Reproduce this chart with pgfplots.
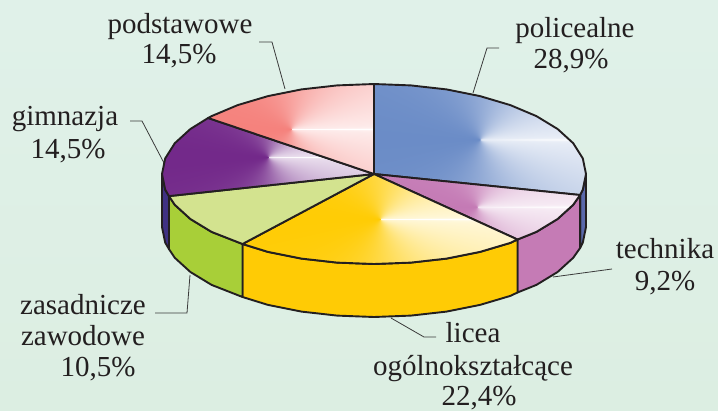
\documentclass[border=0pt]{standalone}
\usepackage{fontspec}
\setmainfont{Liberation Serif}
\usepackage{pgfplots}
\pgfplotsset{compat=1.18}

% conic gradient round the middle of the wedge's box: colour on the left, pale on the right,
% with a thin white streak along the horizontal
% #1 name, #2 y aspect, #3-#5 colour, #6-#8 one minus colour
\newcommand{\wedgeshade}[8]{%
  \pgfdeclarefunctionalshading{#1}{\pgfpoint{0bp}{0bp}}{\pgfpoint{100bp}{100bp}}{}{%
    50.01 sub #2 mul exch 50.01 sub atan 180 sub abs 180 div
    dup 1.7 exp 0.85 mul exch 250 exp 0.15 mul add
    dup #6 mul #3 add exch dup #7 mul #4 add exch #8 mul #5 add}}
\wedgeshade{shPol}{0.524}{0.42}{0.55}{0.78}{0.58}{0.45}{0.22}
\wedgeshade{shTec}{0.32}{0.77}{0.48}{0.71}{0.23}{0.52}{0.29}
\wedgeshade{shLic}{0.327}{1.00}{0.80}{0.02}{0.00}{0.20}{0.98}
\wedgeshade{shGim}{0.37}{0.45}{0.16}{0.54}{0.55}{0.84}{0.46}
\wedgeshade{shPod}{0.54}{0.96}{0.51}{0.49}{0.04}{0.49}{0.51}

\definecolor{rimc}{HTML}{231F20}
\definecolor{leadc}{HTML}{3A3A3A}
\definecolor{sidePol}{HTML}{5A68AB}
\definecolor{sideTec}{HTML}{C57BB5}
\definecolor{sideLic}{HTML}{FFCB05}
\definecolor{sideZas}{HTML}{A8CF38}
\definecolor{sideGim}{HTML}{3F3183}
\definecolor{topZas}{HTML}{D3E38F}

\pgfplotsset{
  rim/.style={draw=rimc, line width=1.9pt, line join=round, no marks, forget plot},
  leader/.style={draw=leadc, line width=0.8pt, no marks, forget plot},
}
\newcommand{\lab}[3]{\node[overlay, anchor=base, inner sep=0pt, font=\fontsize{29}{34}\selectfont, text=rimc] at (axis cs:#1,#2) {#3};}

\begin{document}
\begin{tikzpicture}
\begin{axis}[
  width=718pt, height=410pt, scale only axis,
  xmin=0, xmax=718, ymin=0, ymax=410, y dir=reverse,
  hide axis, clip=false,
]
% background
\addplot[draw=none, no marks, forget plot, top color={rgb,255:red,224;green,241;blue,233}, bottom color={rgb,255:red,220;green,238;blue,226}]
  coordinates {(0,0)(718,0)(718,410)(0,410)} -- cycle;

% leader lines
\addplot[leader] coordinates {(473,93)(487,48)(499,48)};
\addplot[leader] coordinates {(285,89)(272,42)(259,42)};
\addplot[leader] coordinates {(164,163)(142,121)(130,121)};
\addplot[leader] coordinates {(553,277)(612,269)};
\addplot[leader] coordinates {(391,318)(424,337)(436,337)};
\addplot[leader] coordinates {(190,275)(187,313)(155,313)};

% side faces
\addplot[rim, fill=sidePol] coordinates {(586,174)(582.8,189.6)(580.1,195)(580.1,248)(582.8,242.6)(586,227)} -- cycle;
\addplot[rim, fill=sideTec] coordinates {(580.1,195)(573.2,204.8)(557.6,219)(536.4,231.9)(517.5,239.5)(517.5,292.5)(536.4,284.9)(557.6,272)(573.2,257.8)(580.1,248)} -- cycle;
\addplot[rim, fill=sideLic] coordinates {(517.5,239.5)(510.3,242.9)(480,251.9)(446.5,258.6)(410.8,262.6)(374,264)(337.2,262.6)(301.5,258.6)(268,251.9)(242.5,244)(242.5,297)(268,304.9)(301.5,311.6)(337.2,315.6)(374,317)(410.8,315.6)(446.5,311.6)(480,304.9)(510.3,295.9)(517.5,292.5)} -- cycle;
\addplot[rim, fill=sideZas] coordinates {(242.5,244)(211.6,231.9)(190.4,219)(174.8,204.8)(169,196.1)(169,249.1)(174.8,257.8)(190.4,272)(211.6,284.9)(242.5,297)} -- cycle;
\addplot[rim, fill=sideGim] coordinates {(169,196.1)(165.2,189.6)(162,174)(162,227)(165.2,242.6)(169,249.1)} -- cycle;

% top faces
\addplot[rim, shading=shPol] coordinates {(374,174)(374,84)(410.8,85.4)(446.5,89.4)(480,96.1)(510.3,105.1)(536.4,116.1)(557.6,129)(573.2,143.2)(582.8,158.4)(586,174)(582.8,189.6)(580.1,195)} -- cycle;
\addplot[rim, shading=shTec] coordinates {(374,174)(580.1,195)(573.2,204.8)(557.6,219)(536.4,231.9)(517.5,239.5)} -- cycle;
\addplot[rim, shading=shLic] coordinates {(374,174)(517.5,239.5)(510.3,242.9)(480,251.9)(446.5,258.6)(410.8,262.6)(374,264)(337.2,262.6)(301.5,258.6)(268,251.9)(242.5,244)} -- cycle;
\addplot[rim, fill=topZas] coordinates {(374,174)(242.5,244)(211.6,231.9)(190.4,219)(174.8,204.8)(169,196.1)} -- cycle;
\addplot[rim, shading=shGim] coordinates {(374,174)(169,196.1)(165.2,189.6)(162,174)(165.2,158.4)(174.8,143.2)(190.4,129)(208.1,118)} -- cycle;
\addplot[rim, shading=shPod] coordinates {(374,174)(208.1,118)(211.6,116.1)(237.7,105.1)(268,96.1)(301.5,89.4)(337.2,85.4)(374,84)} -- cycle;

% labels
\lab{575}{37}{policealne}
\lab{571}{68}{28,9\%}
\lab{180}{33}{podstawowe}
\lab{179}{63}{14,5\%}
\lab{65}{125}{gimnazja}
\lab{68}{158}{14,5\%}
\lab{665}{258}{technika}
\lab{665}{290}{9,2\%}
\lab{83}{314}{zasadnicze}
\lab{83}{345}{zawodowe}
\lab{98}{376}{10,5\%}
\lab{473}{342}{licea}
\lab{473}{375}{ogólnokształcące}
\lab{479}{405}{22,4\%}
\end{axis}
\end{tikzpicture}
\end{document}
